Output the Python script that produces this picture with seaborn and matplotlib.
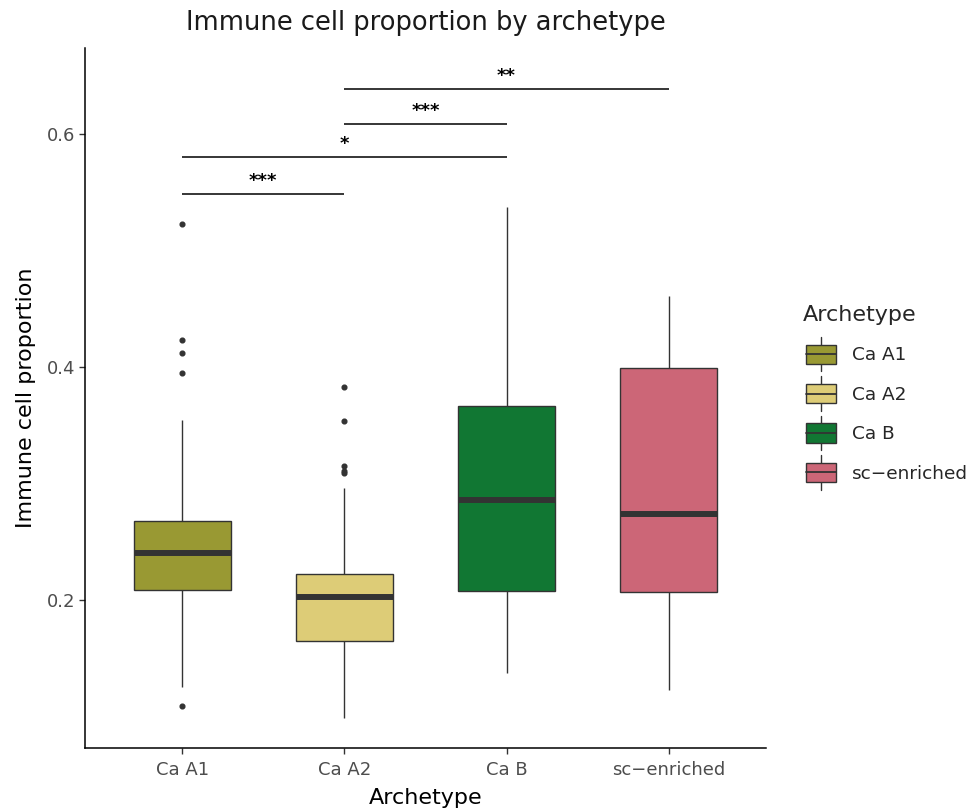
import numpy as np
import pandas as pd
import matplotlib
matplotlib.use("Agg")
import matplotlib.pyplot as plt
from matplotlib.patches import Patch, Rectangle
from matplotlib.lines import Line2D
from matplotlib.legend_handler import HandlerBase
import seaborn as sns

# categories and colours
archetypes = ["Ca A1", "Ca A2", "Ca B", "sc-enriched"]
colors = ["#999933", "#DDCC77", "#117733", "#CC6677"]

# box summaries
lower_whisker = [0.125, 0.099, 0.137, 0.123]
q1 = [0.209, 0.165, 0.208, 0.207]
median = [0.240, 0.203, 0.2855, 0.274]
q3 = [0.268, 0.222, 0.367, 0.399]
upper_whisker = [0.355, 0.296, 0.5375, 0.461]
outliers = [[0.109, 0.395, 0.412, 0.423, 0.523],
            [0.309, 0.311, 0.315, 0.354, 0.383],
            [],
            []]

# significance brackets
comparisons = [("Ca A1", "Ca A2"), ("Ca A1", "Ca B"), ("Ca A2", "Ca B"), ("Ca A2", "sc-enriched")]
sig_heights = [0.549, 0.580, 0.609, 0.639]
sig_labels = ["***", "*", "***", "**"]

# rebuild a sample per group that reproduces the read quartiles
rows = []
for i, name in enumerate(archetypes):
    vals = [lower_whisker[i], upper_whisker[i]] + [q1[i]] * 20 + [median[i]] * 20 + [q3[i]] * 20 + outliers[i]
    rows += [(name, v) for v in vals]
df = pd.DataFrame(rows, columns=["Archetype", "prop"])

sns.set_style("white")
plt.rcParams["font.family"] = ["DejaVu Sans"]

fig = plt.figure(figsize=(9.68, 8.11), dpi=100)
ax = fig.add_axes([0.0878, 0.0777, 0.7035, 0.8631])

edge = "#333333"
sns.boxplot(data=df, x="Archetype", y="prop", hue="Archetype", order=archetypes,
            palette=dict(zip(archetypes, colors)), width=0.6, legend=False,
            linewidth=1.0, linecolor=edge, showcaps=False, saturation=1,
            medianprops=dict(color=edge, linewidth=4.3),
            flierprops=dict(marker="o", markersize=3.4, markerfacecolor=edge,
                            markeredgecolor=edge),
            ax=ax)

for (a, b), h, lab in zip(comparisons, sig_heights, sig_labels):
    x1, x2 = archetypes.index(a), archetypes.index(b)
    ax.plot([x1, x2], [h, h], color="black", lw=1.1, solid_capstyle="butt")
    ax.text((x1 + x2) / 2, h + 0.0035, lab, ha="center", va="bottom",
            fontsize=13, fontweight="bold", color="black")

ax.set_xlim(-0.6, 3.6)
ax.set_ylim(0.073, 0.674)
ax.set_yticks([0.2, 0.4, 0.6])
ax.set_yticklabels(["0.2", "0.4", "0.6"])
ax.set_xticks(range(len(archetypes)))
ax.set_xticklabels([a.replace("-", "\u2212") for a in archetypes])
for s in ["top", "right"]:
    ax.spines[s].set_visible(False)
for s in ["left", "bottom"]:
    ax.spines[s].set_color("black")
    ax.spines[s].set_linewidth(1.1)
ax.tick_params(axis="both", length=4, width=1, color=edge, labelcolor="#4D4D4D",
               labelsize=13, left=True, bottom=True, pad=3)
ax.tick_params(axis="x", pad=5.5)
ax.set_xlabel("Archetype", fontsize=16, labelpad=6, color="black")
ax.set_ylabel("Immune cell proportion", fontsize=16, labelpad=8, color="black")
ax.set_title("Immune cell proportion by archetype", fontsize=18.5, pad=13, color="#1a1a1a")


class BoxHandler(HandlerBase):
    def create_artists(self, legend, orig_handle, xdescent, ydescent, width, height, fontsize, trans):
        x0 = -xdescent + 2.5
        yc = -ydescent + height / 2
        bh = 13.7
        wh = 12.3
        xc = x0 + width / 2
        rect = Rectangle((x0, yc - bh / 2), width, bh, facecolor=orig_handle.get_facecolor(),
                         edgecolor=edge, lw=1.0, transform=trans)
        med = Line2D([x0, x0 + width], [yc, yc], color=edge, lw=1.3, transform=trans)
        w1 = Line2D([xc, xc], [yc - wh, yc - bh / 2], color=edge, lw=1.0, transform=trans)
        w2 = Line2D([xc, xc], [yc + bh / 2, yc + wh], color=edge, lw=1.0, transform=trans)
        return [w1, w2, rect, med]


handles = [Patch(facecolor=c, label=n.replace("-", "\u2212")) for n, c in zip(archetypes, colors)]
leg = fig.legend(handles=handles, loc="upper left", bbox_to_anchor=(0.812, 0.644),
                 frameon=False, title="Archetype", fontsize=13.3, title_fontsize=16,
                 handlelength=1.62, handleheight=1.4, labelspacing=0.98, handletextpad=1.05,
                 alignment="left", handler_map={Patch: BoxHandler()})

fig.savefig("out.png", dpi=100)
